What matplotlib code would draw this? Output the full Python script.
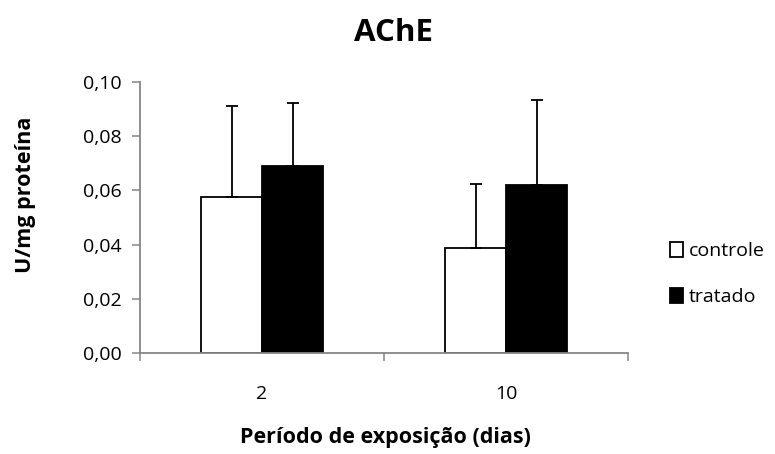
import numpy as np
import matplotlib
matplotlib.use('Agg')
import matplotlib.pyplot as plt

plt.rcParams['font.family'] = ['Open Sans', 'DejaVu Sans']

# data
periodos = ['2', '10']
controle = [0.0577, 0.0389]
tratado = [0.0690, 0.0620]
erro_controle = [0.0334, 0.0235]
erro_tratado = [0.0234, 0.0312]
yticks = [0.00, 0.02, 0.04, 0.06, 0.08, 0.10]

grey = '#868686'

fig = plt.figure(figsize=(7.75, 4.54), dpi=100)
ax = fig.add_axes([140/775, 1-353/454, 488/775, 271/454])

x = np.arange(len(periodos))
w = 0.25
b1 = ax.bar(x - w/2, controle, w, color='white', edgecolor='black', lw=1.3, label='controle', zorder=2)
b2 = ax.bar(x + w/2, tratado, w, color='black', edgecolor='black', lw=1.3, label='tratado', zorder=2)
ax.errorbar(x - w/2, controle, yerr=[np.zeros(2), erro_controle], fmt='none',
            ecolor='black', elinewidth=1.3, capsize=4, capthick=1.3, zorder=3)
ax.errorbar(x + w/2, tratado, yerr=[np.zeros(2), erro_tratado], fmt='none',
            ecolor='black', elinewidth=1.3, capsize=4, capthick=1.3, zorder=3)

ax.set_xlim(-0.5, 1.5)
ax.set_ylim(0, 0.10)
ax.set_yticks(yticks)
ax.set_yticklabels(['{:.2f}'.format(v).replace('.', ',') for v in yticks], fontsize=14)
ax.set_xticks(x)
ax.set_xticklabels(periodos, fontsize=14)
ax.set_xticks([-0.5, 0.5, 1.5], minor=True)
ax.tick_params(axis='x', which='major', length=0, pad=23)
ax.tick_params(axis='x', which='minor', length=6, width=1.1, color=grey, direction='out')
ax.tick_params(axis='y', length=6, width=1.1, color=grey, direction='out', pad=7)

for s in ['top', 'right']:
    ax.spines[s].set_visible(False)
for s in ['left', 'bottom']:
    ax.spines[s].set_color(grey)
    ax.spines[s].set_linewidth(1.3)

fig.text(394/775, 1-33/454, 'AChE', fontsize=22.5, fontweight='bold', ha='center', va='center')
ax.set_ylabel('U/mg proteína', fontsize=15.5, fontweight='bold')
ax.yaxis.set_label_coords(-0.213, 0.583)
ax.set_xlabel('Período de exposição (dias)', fontsize=15.5, fontweight='bold')
ax.xaxis.set_label_coords(0.503, -0.272)

fig.legend(handles=[b1, b2], loc='center left', bbox_to_anchor=(662/775, 1-274/454),
           frameon=False, fontsize=14, handlelength=0.7, handleheight=0.8,
           handletextpad=0.3, labelspacing=1.45, borderaxespad=0)

plt.savefig('out.png', format='png')
plt.close()
